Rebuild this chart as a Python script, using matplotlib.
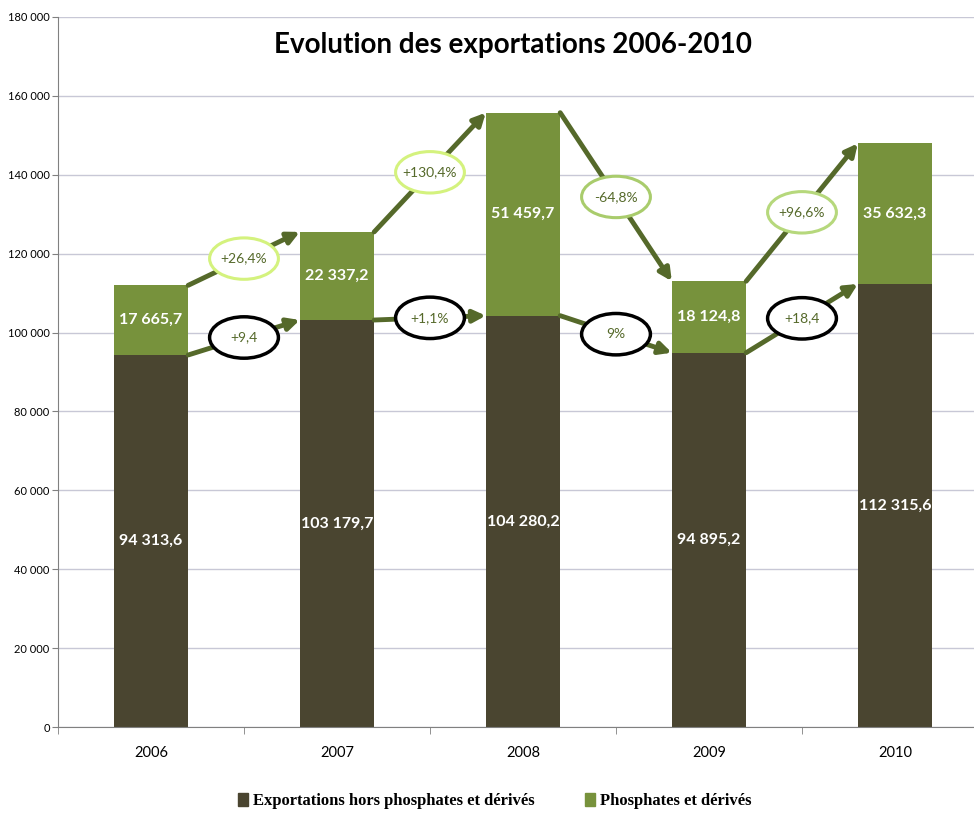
import matplotlib.pyplot as plt
from matplotlib.patches import Ellipse
from matplotlib.ticker import FuncFormatter

years = ["2006", "2007", "2008", "2009", "2010"]
hors_phosphates = [94313.6, 103179.7, 104280.2, 94895.2, 112315.6]
phosphates = [17665.7, 22337.2, 51459.7, 18124.8, 35632.3]
labels_hors = ["94 313,6", "103 179,7", "104 280,2", "94 895,2", "112 315,6"]
labels_phos = ["17 665,7", "22 337,2", "51 459,7", "18 124,8", "35 632,3"]
growth_hors = ["+9,4", "+1,1%", "9%", "+18,4"]
growth_phos = ["+26,4%", "+130,4%", "-64,8%", "+96,6%"]
phos_edge = ["#d4f27e", "#d4f27e", "#a9cc6c", "#b6d87c"]

DARK = "#4a4530"
GREEN = "#77923c"
ARROW = "#55692a"

plt.rcParams["font.family"] = ["Lato", "DejaVu Sans"]

fig = plt.figure(figsize=(9.74, 8.14), dpi=100)
ax = fig.add_axes([58 / 974, 87 / 814, 930 / 974, 710 / 814])

x = list(range(len(years)))
w = 0.4
totals = [a + b for a, b in zip(hors_phosphates, phosphates)]

ax.bar(x, hors_phosphates, width=w, color=DARK, zorder=2)
ax.bar(x, phosphates, width=w, bottom=hors_phosphates, color=GREEN, zorder=2)

for i in x:
    ax.text(i, hors_phosphates[i] / 2, labels_hors[i], ha="center", va="center",
            color="white", fontsize=11.5, fontweight="bold", zorder=3)
    ax.text(i, hors_phosphates[i] + phosphates[i] / 2, labels_phos[i], ha="center",
            va="center", color="white", fontsize=11.5, fontweight="bold", zorder=3)

# arrows + ellipses between years
for i in range(len(years) - 1):
    for series, txt, edge, lw in [(hors_phosphates, growth_hors[i], "black", 2.5),
                                  (totals, growth_phos[i], phos_edge[i], 2.2)]:
        y0, y1 = series[i], series[i + 1]
        ax.annotate("", xy=(i + 1 - w / 2, y1), xytext=(i + w / 2, y0),
                    arrowprops=dict(arrowstyle="-|>", color=ARROW, lw=3.5,
                                    mutation_scale=18, shrinkA=0, shrinkB=0),
                    zorder=4)
        xm, ym = i + 0.5, (y0 + y1) / 2
        ax.add_patch(Ellipse((xm, ym), 0.37, 10500, facecolor="white",
                             edgecolor=edge, lw=lw, zorder=5))
        ax.text(xm, ym, txt, ha="center", va="center", color=ARROW,
                fontsize=10, zorder=6)

ax.set_xlim(-0.5, 4.5)
ax.set_ylim(0, 180000)
ax.set_yticks(range(0, 180001, 20000))
ax.yaxis.set_major_formatter(FuncFormatter(lambda v, p: f"{int(v):,}".replace(",", " ")))
ax.tick_params(axis="y", labelsize=8, length=4, pad=2, color="#808080")
ax.grid(axis="y", color="#c8c8d6", lw=1, zorder=0)

ax.set_xticks(x)
ax.set_xticklabels(years, fontsize=10.5)
ax.tick_params(axis="x", length=0, pad=14)
ax.set_xticks([i - 0.5 for i in range(len(years) + 1)], minor=True)
ax.tick_params(axis="x", which="minor", length=5, color="#808080")

for s in ["top", "right"]:
    ax.spines[s].set_visible(False)
ax.spines["left"].set_color("#808080")
ax.spines["bottom"].set_color("#808080")

fig.text(0.527, 0.945, "Evolution des exportations 2006-2010", ha="center",
         va="center", fontsize=20, fontweight="bold")

# legend
handles = [plt.Rectangle((0, 0), 1, 1, color=DARK), plt.Rectangle((0, 0), 1, 1, color=GREEN)]
fig.legend(handles, ["Exportations hors phosphates et dérivés", "Phosphates et dérivés"],
           loc="center", bbox_to_anchor=(0.508, 0.016), ncol=2, frameon=False,
           prop={"family": ["Liberation Serif", "DejaVu Serif"], "weight": "bold", "size": 12},
           handlelength=0.6, handleheight=0.9, handletextpad=0.3, columnspacing=3)

fig.savefig("out.png", dpi=100)
